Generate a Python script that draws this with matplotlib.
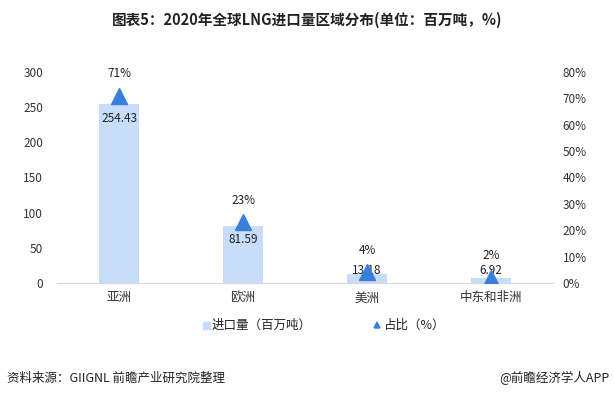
import matplotlib
matplotlib.use("Agg")
from matplotlib import pyplot as plt
from matplotlib.patches import Rectangle, Polygon
from matplotlib.ticker import PercentFormatter

plt.rcParams['font.family'] = ['Noto Sans CJK SC', 'DejaVu Sans']

# data
regions = ["亚洲", "欧洲", "美洲", "中东和非洲"]
volume = [254.43, 81.59, 13.18, 6.92]      # 百万吨
share = [0.71, 0.23, 0.04, 0.02]           # 占比
share_labels = ["71%", "23%", "4%", "2%"]

bar_color = "#c8ddfa"
tri_color = "#3a7fdc"

W, H = 614, 397
fig = plt.figure(figsize=(W / 100, H / 100), dpi=100)
ax = fig.add_axes([57/W, 1 - 283/H, (553 - 57)/W, (283 - 72)/H])
ax2 = ax.twinx()

x = list(range(len(regions)))
ax.bar(x, volume, width=0.32, color=bar_color, zorder=1)
ax.set_xlim(-0.5, 3.5)
ax.set_ylim(0, 300)
ax.set_yticks(range(0, 301, 50))
ax.set_xticks(x)
ax.set_xticklabels(regions, fontsize=9)

ax2.plot(x, share, linestyle="none", marker="^", markersize=12,
         color=tri_color, zorder=3)
ax2.set_ylim(0, 0.8)
ax2.set_yticks([i / 10 for i in range(9)])
ax2.yaxis.set_major_formatter(PercentFormatter(1.0, decimals=0))

for a in (ax, ax2):
    for s in a.spines.values():
        s.set_visible(False)
    a.tick_params(length=0, labelsize=8.5, colors="#333333")
ax.spines["bottom"].set_visible(True)
ax.spines["bottom"].set_color("#d9d9d9")
ax.tick_params(axis="y", pad=10)
ax.tick_params(axis="x", pad=6, labelsize=9)
ax2.tick_params(axis="y", pad=7)

# value labels near top of bars, percentage labels above markers
for i, v in enumerate(volume):
    ax.text(i, max(v - 20, 18), f"{v:.2f}", ha="center", va="center",
            fontsize=8.5, color="#222222", zorder=5)
for i, p in enumerate(share):
    ax2.annotate(share_labels[i], (i, p), xytext=(0, 16),
                 textcoords="offset points", ha="center", va="center",
                 fontsize=8.5, color="#222222")

# legend
ly = 325
fig.patches.append(Rectangle((203/W, 1 - (ly + 3.5)/H), 7/W, 7/H,
                             transform=fig.transFigure, color=bar_color))
fig.text(212/W, 1 - ly/H, "进口量（百万吨）", fontsize=9,
         ha="left", va="center", color="#222222")
fig.patches.append(Polygon([(374/W, 1 - (ly + 3)/H), (380/W, 1 - (ly + 3)/H),
                            (377/W, 1 - (ly - 3)/H)],
                           closed=True, transform=fig.transFigure,
                           color=tri_color))
fig.text(383/W, 1 - ly/H, "占比（%）", fontsize=9,
         ha="left", va="center", color="#222222")

fig.text(0.5, 1 - 20/H, "图表5：2020年全球LNG进口量区域分布(单位：百万吨，%)",
         ha="center", va="center", fontsize=10.5, fontweight="bold",
         color="#222222")
fig.text(7/W, 1 - 378/H, "资料来源：GIIGNL 前瞻产业研究院整理",
         ha="left", va="center", fontsize=9, color="#222222")
fig.text(610/W, 1 - 378/H, "@前瞻经济学人APP",
         ha="right", va="center", fontsize=9, color="#222222")

fig.savefig("out.png", dpi=100)
